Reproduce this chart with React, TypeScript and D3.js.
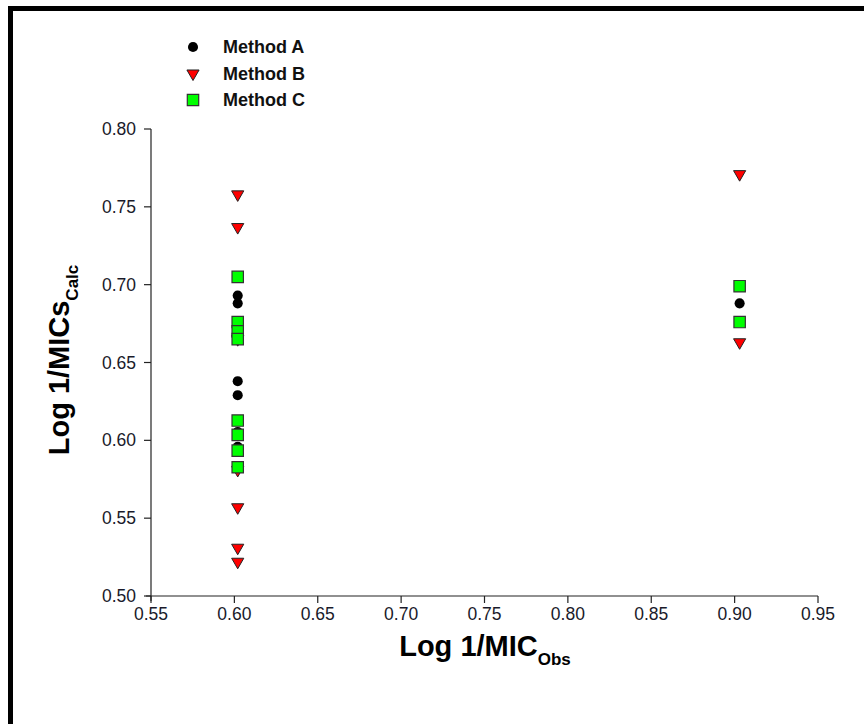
import React from "react";
import * as d3 from "d3";

// values
const xTicks = [0.55, 0.6, 0.65, 0.7, 0.75, 0.8, 0.85, 0.9, 0.95];
const yTicks = [0.5, 0.55, 0.6, 0.65, 0.7, 0.75, 0.8];

const methodAX = [0.602, 0.602, 0.602, 0.602, 0.602, 0.602, 0.903];
const methodAY = [0.693, 0.688, 0.638, 0.629, 0.6054, 0.5958, 0.688];

const methodBX = [0.602, 0.602, 0.602, 0.602, 0.602, 0.602, 0.602, 0.903, 0.903];
const methodBY = [0.758, 0.737, 0.665, 0.581, 0.557, 0.531, 0.522, 0.771, 0.663];

const methodCX = [0.602, 0.602, 0.602, 0.602, 0.602, 0.602, 0.602, 0.602, 0.903, 0.903];
const methodCY = [0.705, 0.676, 0.67, 0.665, 0.6127, 0.6035, 0.5934, 0.5827, 0.699, 0.676];

const legendLabels = ["Method A", "Method B", "Method C"];

const W = 864;
const H = 724;
const font = "'Liberation Sans', Arial, sans-serif";

const circlePath = d3.symbol().type(d3.symbolCircle).size(80)()!;
const triPath = d3.symbol().type(d3.symbolTriangle).size(64)()!;
const squarePath = d3.symbol().type(d3.symbolSquare).size(130)()!;

const Marker = ({ kind, x, y }: { kind: number; x: number; y: number }) => {
  if (kind === 0)
    return <path d={circlePath} transform={`translate(${x},${y})`} fill="#000" />;
  if (kind === 1)
    return (
      <path
        d={triPath}
        transform={`translate(${x},${y}) rotate(180)`}
        fill="#ff0000"
        stroke="#222"
        strokeWidth={1}
      />
    );
  return (
    <path
      d={squarePath}
      transform={`translate(${x},${y})`}
      fill="#00ff00"
      stroke="#333"
      strokeWidth={1.2}
    />
  );
};

export default function App() {
  const left = 151;
  const right = 818;
  const top = 129;
  const bottom = 596;

  const x = d3.scaleLinear().domain([0.55, 0.95]).range([left, right]);
  const y = d3.scaleLinear().domain([0.5, 0.8]).range([bottom, top]);

  const series = [
    { xs: methodAX, ys: methodAY },
    { xs: methodBX, ys: methodBY },
    { xs: methodCX, ys: methodCY },
  ];

  return (
    <svg
      width={W}
      height={H}
      style={{ position: "absolute", left: 0, top: 0, background: "#fff" }}
      fontFamily={font}
    >
      <rect width={W} height={H} fill="#fff" />
      {/* frame */}
      <path d={`M10.5,${H} L10.5,8.5 L${W},8.5`} fill="none" stroke="#000" strokeWidth={5} />

      {/* y axis */}
      <line x1={left} x2={left} y1={top} y2={bottom + 5} stroke="#222" strokeWidth={1.2} />
      {yTicks.map((t) => (
        <g key={"y" + t}>
          <line x1={left - 7} x2={left} y1={y(t)} y2={y(t)} stroke="#222" strokeWidth={1.2} />
          <text
            x={left - 15}
            y={y(t)}
            textAnchor="end"
            dominantBaseline="central"
            fontSize={17.5}
            fill="#1a1a2a"
          >
            {d3.format(".2f")(t)}
          </text>
        </g>
      ))}

      {/* x axis */}
      <line x1={left - 5} x2={right} y1={bottom} y2={bottom} stroke="#222" strokeWidth={1.2} />
      {xTicks.map((t) => (
        <g key={"x" + t}>
          <line x1={x(t)} x2={x(t)} y1={bottom} y2={bottom + 7} stroke="#222" strokeWidth={1.2} />
          <text x={x(t)} y={bottom + 18} textAnchor="middle" dominantBaseline="central" fontSize={17.5} fill="#1a1a2a">
            {d3.format(".2f")(t)}
          </text>
        </g>
      ))}

      {/* axis titles */}
      <text x={485} y={656} textAnchor="middle" fontSize={29} fontWeight="bold" fill="#000">
        Log 1/MIC
        <tspan fontSize={17} dy={9}>Obs</tspan>
      </text>
      <text
        transform={`translate(69,360) rotate(-90)`}
        textAnchor="middle"
        fontSize={29}
        fontWeight="bold"
        fill="#000"
      >
        Log 1/MICs
        <tspan fontSize={17} dy={9}>Calc</tspan>
      </text>

      {/* points */}
      {series.map((s, si) =>
        s.xs.map((xv, i) => <Marker key={si + "-" + i} kind={si} x={x(xv)} y={y(s.ys[i])} />)
      )}

      {/* legend */}
      {legendLabels.map((label, i) => (
        <g key={label}>
          <Marker kind={i} x={193} y={47 + i * 26.5} />
          <text x={223} y={47 + i * 26.5} dominantBaseline="central" fontSize={18} fontWeight="bold" fill="#111">
            {label}
          </text>
        </g>
      ))}
    </svg>
  );
}
